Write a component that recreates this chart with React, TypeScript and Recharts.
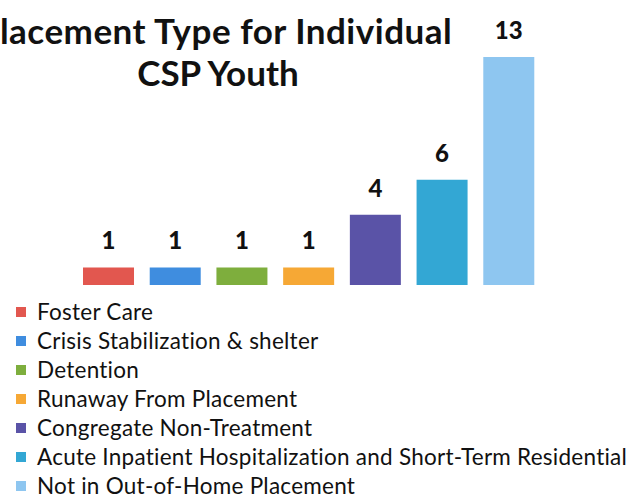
import React from 'react';
import { BarChart, Bar, XAxis, YAxis, Cell, LabelList, Legend } from 'recharts';

const categories = [
  'Foster Care',
  'Crisis Stabilization & shelter',
  'Detention',
  'Runaway From Placement',
  'Congregate Non-Treatment',
  'Acute Inpatient Hospitalization and Short-Term Residential',
  'Not in Out-of-Home Placement',
];
const counts = [1, 1, 1, 1, 4, 6, 13];
const colors = ['#e2574f', '#3f8ddf', '#7eae3d', '#f6a835', '#5a53a7', '#33a7d4', '#8ec6f0'];
const titleLines = ['Placement Type for Individual', 'CSP Youth'];

const data = categories.map((name, i) => ({ name, value: counts[i] }));

const FONT = 'Lato, "Open Sans", sans-serif';

const LegendContent = () => (
  <div style={{ height: 203, fontFamily: FONT }}>
    {categories.map((c, i) => (
      <div key={c} style={{ height: 29, display: 'flex', alignItems: 'center' }}>
        <span style={{ display: 'inline-block', width: 10, height: 10, background: colors[i], marginLeft: 16, marginRight: 11 }} />
        <span style={{ fontSize: 22.5, letterSpacing: 0.25, color: '#111', whiteSpace: 'nowrap' }}>{c}</span>
      </div>
    ))}
  </div>
);

export default function App() {
  return (
    <div style={{ position: 'absolute', left: 0, top: 0, width: 637, height: 498, background: '#fff', overflow: 'hidden' }}>
      <BarChart width={637} height={498} data={data} margin={{ top: 57, right: 95, bottom: 10, left: 75 }} barCategoryGap="12%">
        <XAxis dataKey="name" hide />
        <YAxis hide domain={[0, 13]} />
        <Bar dataKey="value" isAnimationActive={false}>
          {data.map((d, i) => (
            <Cell key={d.name} fill={colors[i]} />
          ))}
          <LabelList dataKey="value" position="top" offset={18} fill="#111" fontSize={24} fontWeight={900} fontFamily={FONT} />
        </Bar>
        <Legend layout="vertical" align="center" verticalAlign="bottom" content={LegendContent} wrapperStyle={{ left: 0, top: 297, bottom: 'auto', width: 637 }} />
      </BarChart>
      <div style={{ position: 'absolute', left: 215 - 300, top: 9, width: 600, textAlign: 'center', fontFamily: FONT, fontWeight: 700, fontSize: 35, lineHeight: '42px', color: '#111', whiteSpace: 'nowrap', letterSpacing: 0.5 }}>
        {titleLines[0]}
      </div>
      <div style={{ position: 'absolute', left: 218 - 300, top: 51, width: 600, textAlign: 'center', fontFamily: FONT, fontWeight: 700, fontSize: 35, lineHeight: '42px', color: '#111', whiteSpace: 'nowrap' }}>
        {titleLines[1]}
      </div>
    </div>
  );
}
